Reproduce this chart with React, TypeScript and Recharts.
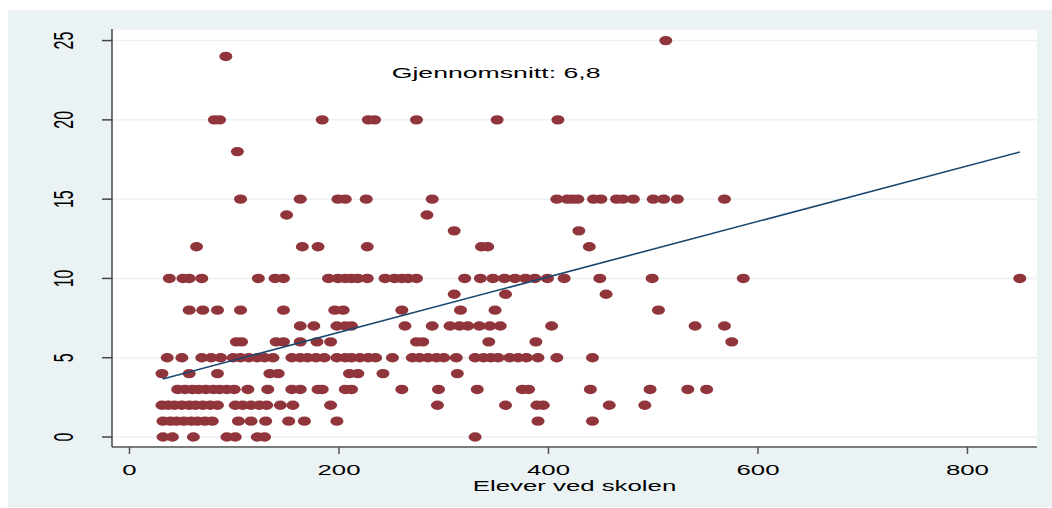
import React from 'react'
import { ScatterChart, Scatter, XAxis, YAxis, CartesianGrid } from 'recharts'

// elever ved skolen (x) for hver verdi på y-aksen
const at0 = [32, 41, 61, 93, 101, 122, 129, 330]
const at1 = [32, 39, 45, 52, 59, 65, 72, 79, 104, 116, 130, 152, 167, 198, 390, 442]
const at2 = [31, 37, 43, 50, 57, 63, 70, 77, 84, 101, 108, 116, 124, 131, 144, 156, 192, 294, 359, 389, 395, 458, 492]
const at3 = [46, 53, 60, 66, 73, 80, 86, 93, 100, 113, 132, 155, 163, 180, 184, 206, 212, 260, 295, 332, 375, 381, 440, 497, 533, 551]
const at4 = [31, 57, 84, 134, 142, 210, 218, 242, 313]
const at5 = [36, 50, 69, 78, 87, 99, 106, 114, 122, 129, 137, 155, 163, 170, 178, 186, 198, 206, 212, 220, 228, 235, 251, 270, 277, 285, 293, 300, 312, 330, 338, 345, 352, 363, 371, 379, 390, 408, 442]
const at6 = [102, 107, 140, 147, 163, 179, 192, 274, 280, 343, 388, 575]
const at7 = [163, 176, 198, 206, 212, 263, 289, 306, 315, 323, 334, 344, 354, 403, 540, 568]
const at8 = [57, 70, 84, 106, 147, 196, 204, 260, 316, 349, 505]
const at9 = [310, 359, 455]
const at10 = [38, 51, 57, 69, 123, 139, 147, 190, 199, 206, 212, 218, 227, 244, 253, 260, 266, 274, 320, 335, 347, 358, 368, 378, 387, 399, 415, 449, 499, 586, 850]
const at12 = [64, 165, 180, 227, 336, 342, 439]
const at13 = [310, 429]
const at14 = [150, 284]
const at15 = [106, 163, 199, 206, 226, 289, 408, 418, 423, 428, 443, 450, 465, 471, 481, 500, 510, 523, 568]
const at18 = [103]
const at20 = [81, 86, 184, 228, 234, 274, 351, 409]
const at24 = [92]
const at25 = [512]

const rows: [number, number[]][] = [
  [0, at0], [1, at1], [2, at2], [3, at3], [4, at4], [5, at5], [6, at6], [7, at7],
  [8, at8], [9, at9], [10, at10], [12, at12], [13, at13], [14, at14], [15, at15],
  [18, at18], [20, at20], [24, at24], [25, at25],
]
const points = rows.flatMap(([y, xs]) => xs.map(x => ({ x, y })))

// lineær tilpasning, avlest endepunkter
const fitLine = [{ x: 31.7, y: 3.66 }, { x: 850, y: 17.97 }]

const xTicks = [0, 200, 400, 600, 800]
const yTicks = [0, 5, 10, 15, 20, 25]
const note = [{ x: 350, y: 23, text: 'Gjennomsnitt: 6,8' }]

const FONT = '"Liberation Sans", Arial, sans-serif'
const STRETCH = 1.72
const MAROON = '#90353B'
const NAVY = '#1A476F'

const XTick = (props: any) => (
  <text transform={`translate(${props.x},465) scale(${STRETCH},1)`} textAnchor="middle"
    fontSize={15} fontFamily={FONT} fill="#000">
    {props.payload.value}
  </text>
)

const YTick = (props: any) => (
  <text transform={`translate(65,${props.y}) scale(${STRETCH},1) rotate(-90)`} textAnchor="middle"
    fontSize={16} fontFamily={FONT} fill="#000">
    {props.payload.value}
  </text>
)

const XTitle = (props: any) => {
  const vb = props.viewBox || { x: 104, width: 925 }
  return (
    <text transform={`translate(${vb.x + vb.width / 2},481) scale(${STRETCH},1)`} textAnchor="middle"
      fontSize={15} fontFamily={FONT} fill="#000">
      Elever ved skolen
    </text>
  )
}

const Dot = (props: any) => <ellipse cx={props.cx} cy={props.cy} rx={6.5} ry={4.7} fill={MAROON} />

const Note = (props: any) => (
  <text transform={`translate(${props.cx},${props.cy + 6}) scale(${STRETCH},1)`} textAnchor="middle"
    fontSize={15.5} fontFamily={FONT} fill="#000">
    {props.payload.text}
  </text>
)

export default function App() {
  return (
    <div style={{ position: 'absolute', left: 8, top: 10, width: 1044, height: 497, background: '#EAF2F3' }}>
      <ScatterChart width={1044} height={497} margin={{ top: 19, right: 15, bottom: 0, left: 0 }}>
        <CartesianGrid vertical={false} fill="#fff" stroke="#EAF2F3" strokeWidth={1.5} />
        <XAxis type="number" dataKey="x" domain={[-16.7, 866.4]} ticks={xTicks} allowDataOverflow
          height={60} tickSize={7} tick={<XTick />} stroke="#555" strokeWidth={1.5}
          label={<XTitle />} />
        <YAxis type="number" dataKey="y" domain={[-0.63, 25.73]} ticks={yTicks} allowDataOverflow
          width={104} tickSize={10} tick={<YTick />} stroke="#444" strokeWidth={1.5} />
        <Scatter data={points} shape={<Dot />} isAnimationActive={false} />
        <Scatter data={fitLine} line={{ stroke: NAVY, strokeWidth: 1.6 }} shape={() => <g />}
          isAnimationActive={false} />
        <Scatter data={note} shape={<Note />} isAnimationActive={false} />
      </ScatterChart>
    </div>
  )
}
